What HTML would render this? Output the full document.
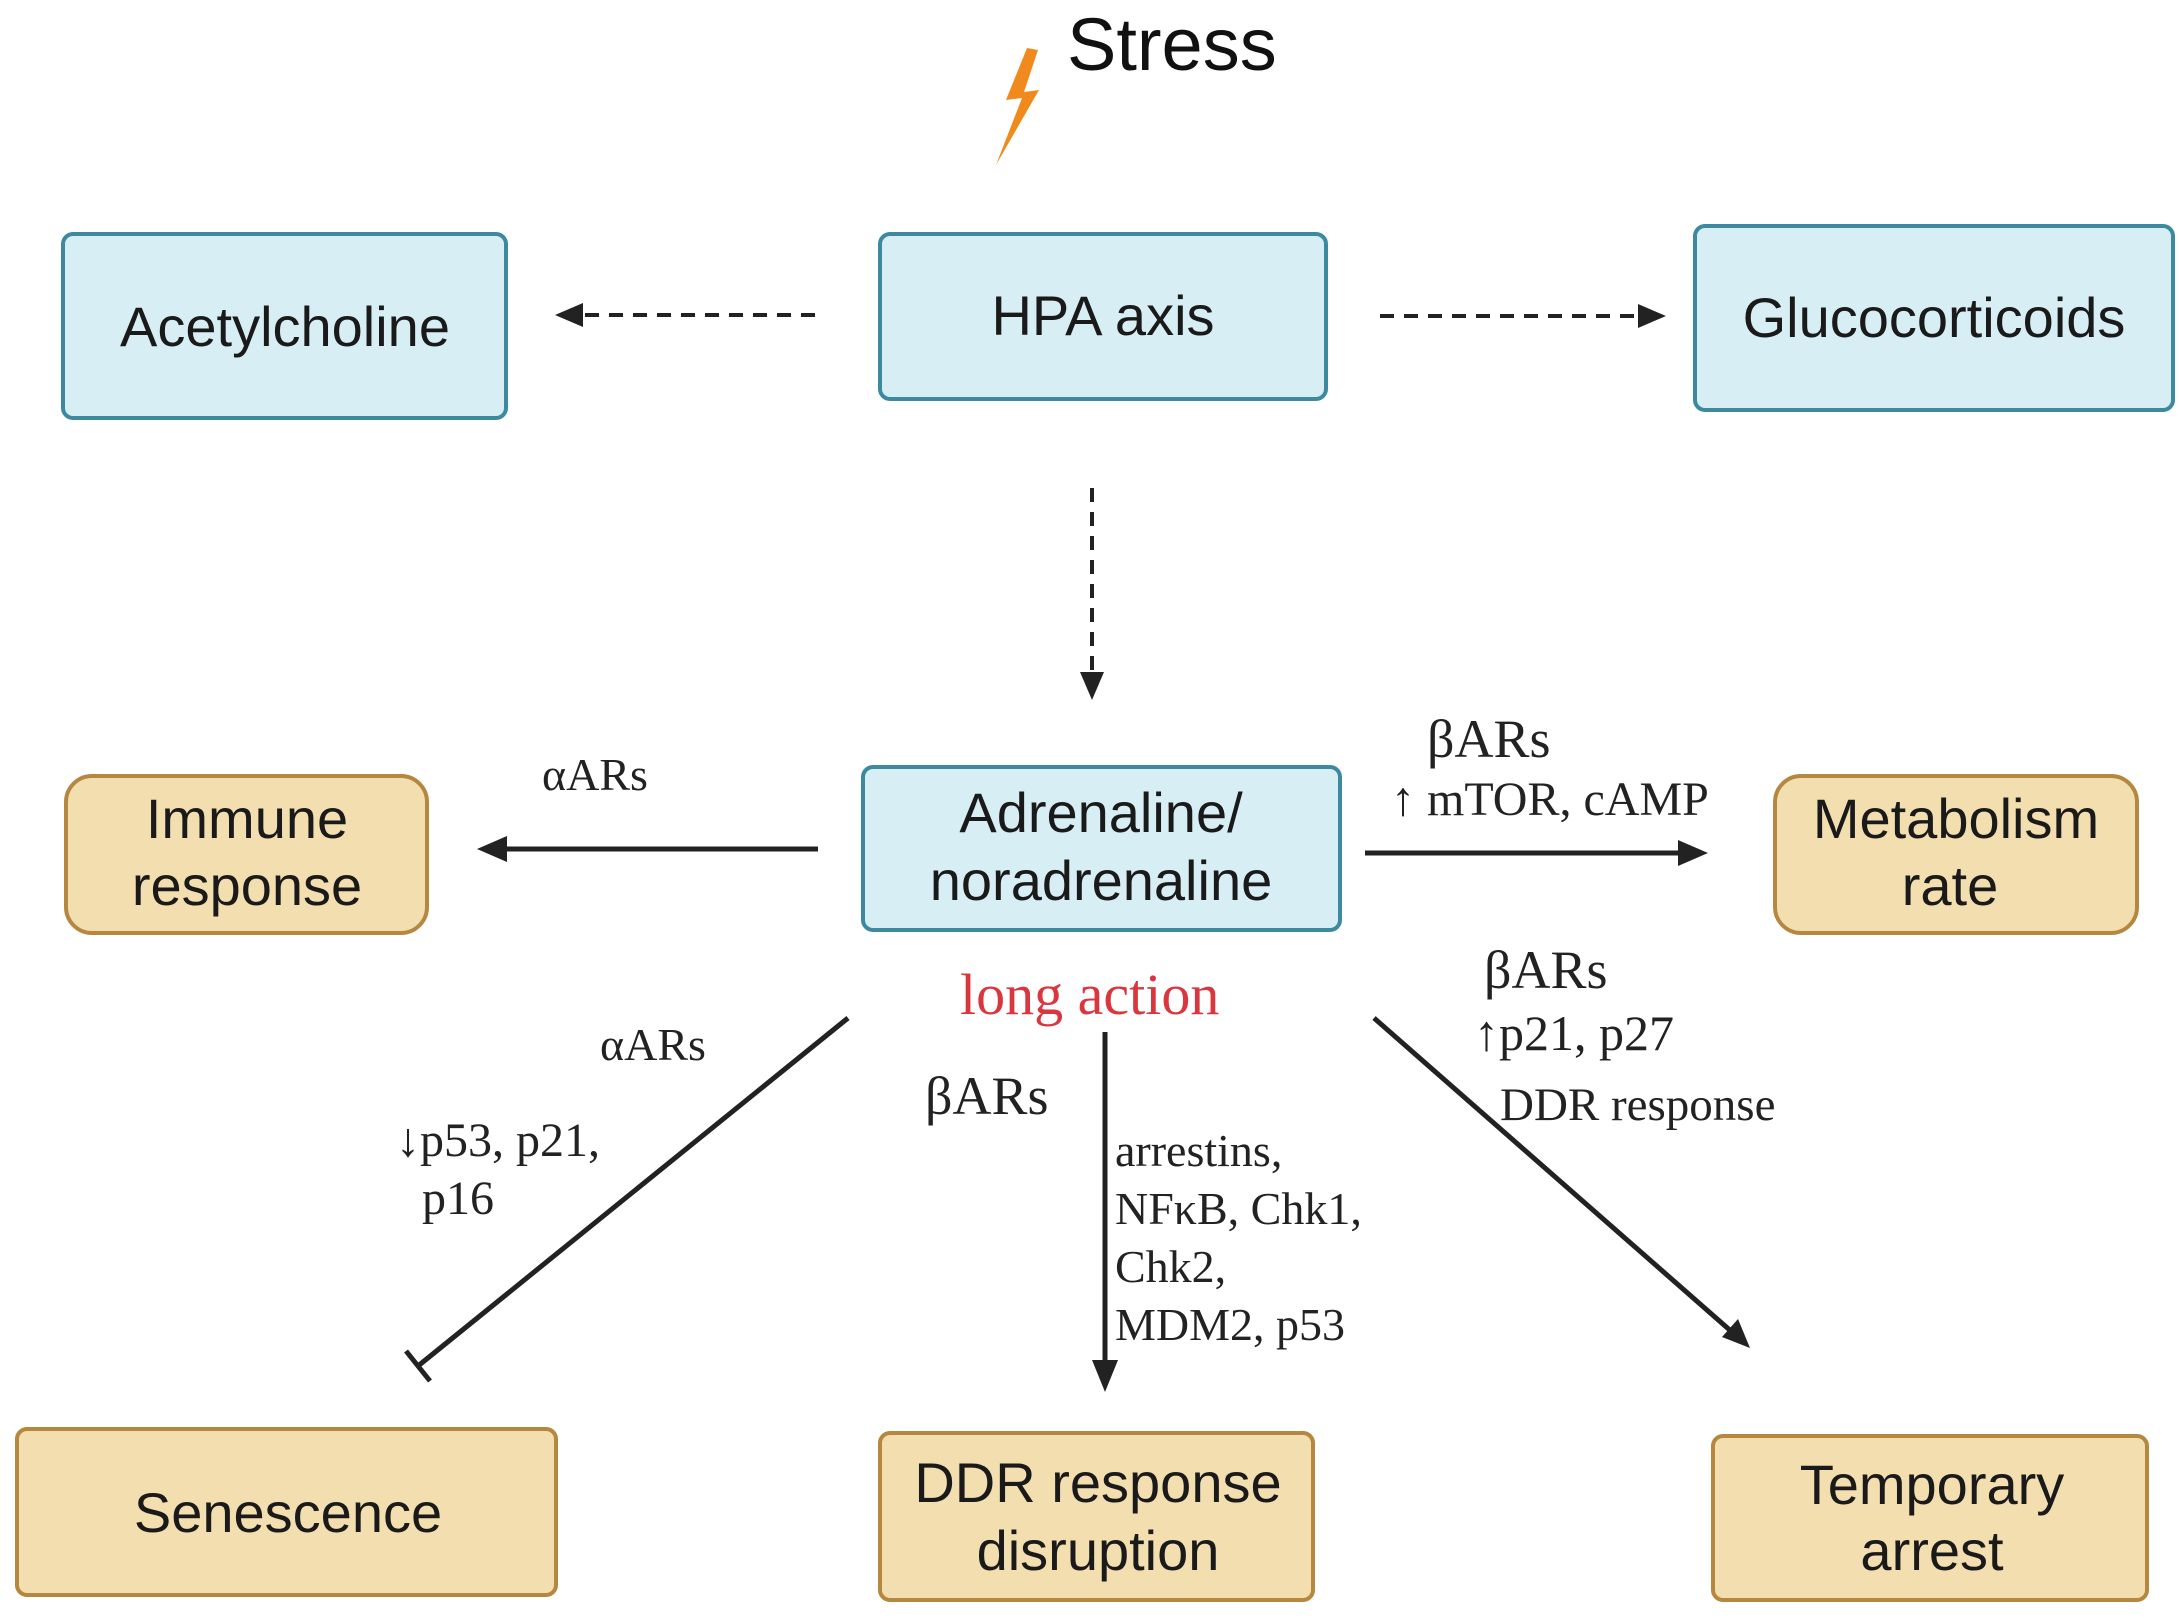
<!DOCTYPE html>
<html><head><meta charset="utf-8"><style>
html,body{margin:0;padding:0;background:#fff;}
svg{display:block;}
.s{font-family:"Liberation Sans",sans-serif;font-size:56px;fill:#1a1a1a;text-anchor:middle;}
.r{font-family:"Liberation Serif",serif;fill:#222;}
</style></head><body>
<svg width="2179" height="1619" viewBox="0 0 2179 1619" xmlns="http://www.w3.org/2000/svg">
<text x="1067" y="70" font-family="Liberation Sans,sans-serif" font-size="74" fill="#111">Stress</text>
<polygon points="1027,48 1006,100 1022,98 996,165 1039,90 1024,92 1038,50" fill="#f08a1c"/>

<g fill="#d7eef5" stroke="#3d8aa0" stroke-width="4">
<rect x="63" y="234" width="443" height="184" rx="10"/>
<rect x="880" y="234" width="446" height="165" rx="10"/>
<rect x="1695" y="226" width="478" height="184" rx="10"/>
<rect x="863" y="767" width="477" height="163" rx="10"/>
</g>
<g fill="#f3deb0" stroke="#b5873f" stroke-width="4">
<rect x="66" y="776" width="361" height="157" rx="26"/>
<rect x="1775" y="776" width="362" height="157" rx="26"/>
<rect x="17" y="1429" width="539" height="166" rx="10"/>
<rect x="880" y="1433" width="433" height="167" rx="10"/>
<rect x="1713" y="1436" width="434" height="164" rx="10"/>
</g>
<text class="s" x="285" y="346">Acetylcholine</text>
<text class="s" x="1103" y="335">HPA axis</text>
<text class="s" x="1934" y="337">Glucocorticoids</text>
<text class="s" x="1101" y="832">Adrenaline/</text>
<text class="s" x="1101" y="900">noradrenaline</text>
<text class="s" x="247" y="838">Immune</text>
<text class="s" x="247" y="905">response</text>
<text class="s" x="1956" y="838">Metabolism</text>
<text class="s" x="1950" y="905">rate</text>
<text class="s" x="288" y="1532">Senescence</text>
<text class="s" x="1098" y="1502">DDR response</text>
<text class="s" x="1098" y="1570">disruption</text>
<text class="s" x="1932" y="1504">Temporary</text>
<text class="s" x="1932" y="1570">arrest</text>

<g stroke="#222" stroke-width="4" stroke-dasharray="14,10" fill="none">
<line x1="815" y1="315" x2="575" y2="315"/>
<line x1="1380" y1="316" x2="1645" y2="316"/>
<line x1="1092" y1="488" x2="1092" y2="678"/>
</g>
<g fill="#222">
<polygon points="555,315 583,303 583,327"/>
<polygon points="1666,316 1638,304 1638,328"/>
<polygon points="1092,700 1080,672 1104,672"/>
</g>
<g stroke="#222" stroke-width="5" fill="none">
<line x1="818" y1="849" x2="500" y2="849"/>
<line x1="1365" y1="853" x2="1685" y2="853"/>
<line x1="848" y1="1018" x2="418" y2="1366"/>
<line x1="406" y1="1351" x2="430" y2="1381"/>
<line x1="1105" y1="1032" x2="1105" y2="1365"/>
<line x1="1374" y1="1018" x2="1732" y2="1332"/>
</g>
<g fill="#222">
<polygon points="477,849 507,836 507,862"/>
<polygon points="1708,853 1678,840 1678,866"/>
<polygon points="1105,1392 1092,1360 1118,1360"/>
<polygon points="1750,1348 1722,1337 1738,1319"/>
</g>

<g class="r">
<text x="542" y="790" font-size="46">αARs</text>
<text x="1427" y="757" font-size="54">βARs</text>
<text x="1391" y="815" font-size="48">↑ mTOR, cAMP</text>
<text x="960" y="1014" font-size="58" fill="#d9363e">long action</text>
<text x="1484" y="988" font-size="54">βARs</text>
<text x="1474" y="1050" font-size="50">↑p21, p27</text>
<text x="1500" y="1120" font-size="47">DDR response</text>
<text x="600" y="1060" font-size="46">αARs</text>
<text x="396" y="1156" font-size="48">↓p53, p21,</text>
<text x="422" y="1214" font-size="48">p16</text>
<text x="925" y="1114" font-size="54">βARs</text>
<text x="1115" y="1166" font-size="46">arrestins,</text>
<text x="1115" y="1224" font-size="46">NFκB, Chk1,</text>
<text x="1115" y="1282" font-size="46">Chk2,</text>
<text x="1115" y="1340" font-size="46">MDM2, p53</text>
</g>
</svg>
</body></html>
